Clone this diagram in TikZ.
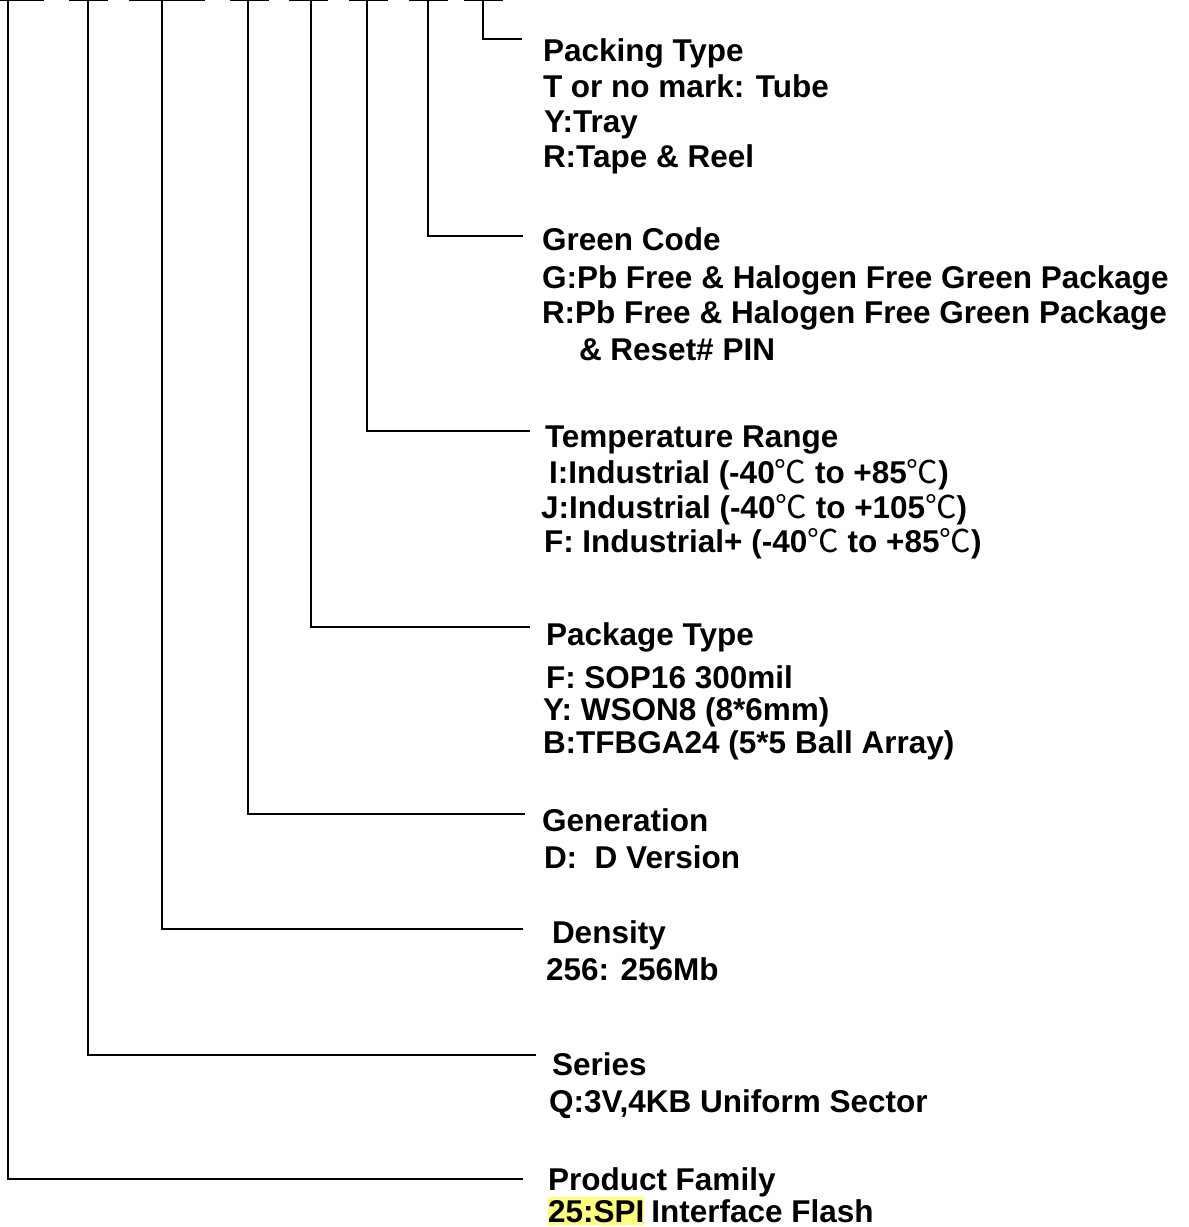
\documentclass[tikz,border=0pt]{standalone}
\usepackage{fontspec}
\setmainfont{Liberation Sans}
\newfontfamily\cjkfont{Noto Sans CJK SC}
\newcommand\degC{{\cjkfont\mdseries ℃}}
\definecolor{hl}{RGB}{255,255,128}
\begin{document}
\begin{tikzpicture}[x=1bp,y=-1bp,line width=2bp,
  lbl/.style={anchor=base west,inner sep=0pt,font=\fontsize{31.5bp}{35bp}\selectfont\bfseries},
  conn/.style={draw=black,line width=2bp}]
\useasboundingbox (0,0) rectangle (1189,1227);
% blanks of the part number
\foreach \a/\b in {0/44,69/108,129/205,230/269,289/328,349/388,409/448,464/503}
  \draw (\a,0) -- (\b,0);
% connector ends
\coordinate (t1) at (8,0);   \coordinate (e1) at (523,1179);
\coordinate (t2) at (88,0);  \coordinate (e2) at (536,1055);
\coordinate (t3) at (162,0); \coordinate (e3) at (523,929);
\coordinate (t4) at (248,0); \coordinate (e4) at (525,814);
\coordinate (t5) at (311,0); \coordinate (e5) at (530,627);
\coordinate (t6) at (367,0); \coordinate (e6) at (530,431);
\coordinate (t7) at (428,0); \coordinate (e7) at (523,236);
\coordinate (t8) at (483,0); \coordinate (e8) at (522,39);
\foreach \i in {1,...,8} \draw[conn] (t\i) |- (e\i);
% Packing type
\node[lbl] (pk0) at (542,61) {Packing Type};
\node[lbl] (pk1) at (542,97) {T or no mark: Tube};
\node[lbl] (pk2) at (543,132) {Y:Tray};
\node[lbl] (pk3) at (542,167) {R:Tape \& Reel};
% Green code
\node[lbl] (gc0) at (541,250) {Green Code};
\node[lbl] (gc1) at (541,288) {G:Pb Free \& Halogen Free Green Package};
\node[lbl] (gc2) at (541,323) {R:Pb Free \& Halogen Free Green Package};
\node[lbl] (gc3) at (578,360) {\& Reset\# PIN};
% Temperature range
\node[lbl] (tr0) at (544,447) {Temperature Range};
\node[lbl] (tr1) at (548,483) {I:Industrial (-40\degC{} to +85\degC)};
\node[lbl] (tr2) at (540,518) {J:Industrial (-40\degC{} to +105\degC)};
\node[lbl] (tr3) at (543,552) {F: Industrial+ (-40\degC{} to +85\degC)};
% Package type
\node[lbl] (pt0) at (545,645) {Package Type};
\node[lbl] (pt1) at (545,688) {F: SOP16 300mil};
\node[lbl] (pt2) at (542,720) {Y: WSON8 (8*6mm)};
\node[lbl] (pt3) at (542,753) {B:TFBGA24 (5*5 Ball Array)};
% Generation
\node[lbl] (gn0) at (541,831) {Generation};
\node[lbl] (gn1) at (543,868) {D:\ \ D Version};
% Density
\node[lbl] (dn0) at (551,943) {Density};
\node[lbl] (dn1) at (545,980) {256: 256Mb};
% Series
\node[lbl] (sr0) at (551,1075) {Series};
\node[lbl] (sr1) at (548,1112) {Q:3V,4KB Uniform Sector};
% Product family
\node[lbl] (pf0) at (547,1190) {Product Family};
\node[lbl,fill=hl,inner xsep=0bp,inner ysep=3bp] (pf1a) at (547,1222) {25:SPI};
\node[lbl] (pf1b) at ([xshift=5bp]pf1a.base east) {Interface Flash};
\end{tikzpicture}
\end{document}
